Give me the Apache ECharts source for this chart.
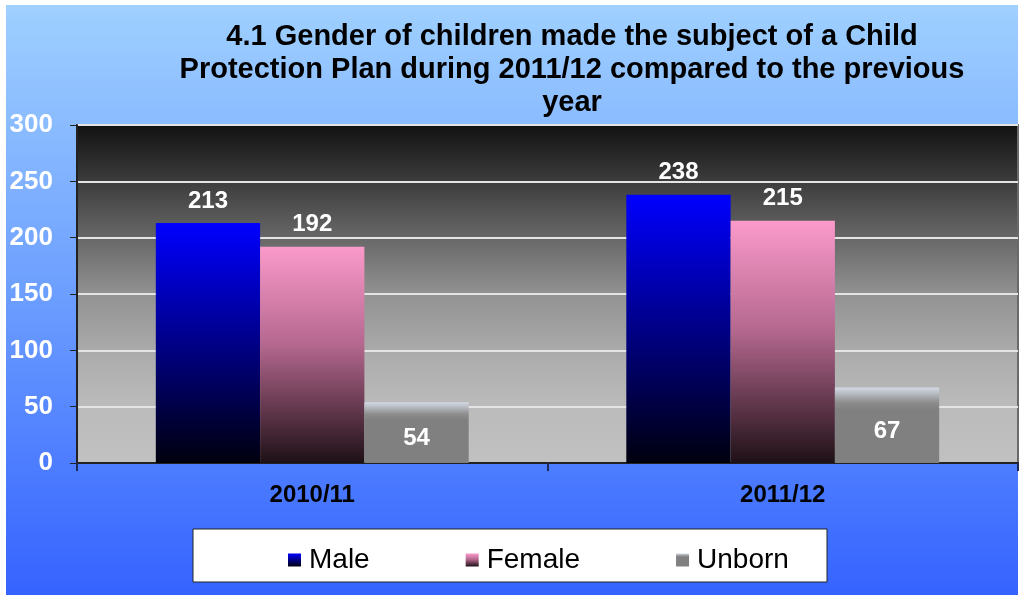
<!DOCTYPE html>
<html>
<head>
<meta charset="utf-8">
<script src="https://cdn.jsdelivr.net/npm/echarts@6/dist/echarts.min.js"></script>
<style>
  html, body { margin: 0; padding: 0; background: #ffffff; }
  #chart { width: 1020px; height: 595px; }
</style>
</head>
<body>
<div id="chart"></div>
<script>
// data
const categories = ["2010/11", "2011/12"];
const male = [213, 238];
const female = [192, 215];
const unborn = [54, 67];
const yTicks = [0, 50, 100, 150, 200, 250, 300];

const chart = echarts.init(document.getElementById("chart"), null, { renderer: "canvas" });

const vGrad = (stops) => new echarts.graphic.LinearGradient(0, 0, 0, 1, stops);
const FONT = "Arial, 'Liberation Sans', sans-serif";

const topLabel = {
  show: true,
  position: "top",
  distance: 10,
  color: "#ffffff",
  fontFamily: FONT,
  fontWeight: "bold",
  fontSize: 24,
};

const option = {
  animation: false,
  graphic: [
    {
      type: "rect",
      z: -10,
      silent: true,
      shape: { x: 6, y: 5, width: 1012, height: 590 },
      style: {
        fill: vGrad([
          { offset: 0, color: "#9fd0ff" },
          { offset: 0.5, color: "#6b9dff" },
          { offset: 1, color: "#3563ff" },
        ]),
      },
    },
    {
      // plot background
      type: "rect",
      z: -5,
      silent: true,
      shape: { x: 77, y: 125, width: 941, height: 338 },
      style: {
        fill: vGrad([
          { offset: 0, color: "#111111" },
          { offset: 0.33, color: "#666666" },
          { offset: 0.5, color: "#929292" },
          { offset: 0.67, color: "#ababab" },
          { offset: 0.83, color: "#bbbbbb" },
          { offset: 1, color: "#c1c1c1" },
        ]),
        stroke: "#6a6a6a",
        lineWidth: 2,
      },
    },
    {
      type: "rect",
      z: 10,
      silent: true,
      shape: { x: 193, y: 529, width: 634, height: 53 },
      style: { fill: "#ffffff", stroke: "#222222", lineWidth: 1 },
    },
  ],
  title: {
    text: "4.1 Gender of children made the subject of a Child\nProtection Plan during 2011/12 compared to the previous\nyear",
    left: 567,
    textAlign: "center",
    top: 15,
    textStyle: {
      fontFamily: FONT,
      fontWeight: "bold",
      fontSize: 29,
      lineHeight: 33,
      color: "#000000",
    },
  },
  legend: {
    data: ["Male", "Female", "Unborn"],
    left: 283,
    top: 541,
    z: 20,
    icon: "rect",
    itemWidth: 13,
    itemHeight: 13,
    itemGap: 96,
    textStyle: {
      fontFamily: FONT,
      fontSize: 28,
      color: "#000000",
      padding: [0, 0, 0, 3],
    },
  },
  grid: { left: 77, right: 2, top: 125, bottom: 132, containLabel: false },
  xAxis: {
    type: "category",
    data: categories,
    axisLine: { lineStyle: { color: "#222222", width: 2 } },
    axisTick: { show: true, length: 8, lineStyle: { color: "#1a2a55", width: 2 } },
    axisLabel: {
      margin: 20,
      color: "#000000",
      fontFamily: FONT,
      fontWeight: "bold",
      fontSize: 24,
    },
  },
  yAxis: {
    type: "value",
    min: yTicks[0],
    max: yTicks[yTicks.length - 1],
    interval: 50,
    axisLine: { show: true, lineStyle: { color: "#222222", width: 2 } },
    axisTick: { show: true, length: 7, lineStyle: { color: "#222222" } },
    splitLine: { show: true, lineStyle: { color: "#e4e4e4", width: 2 } },
    axisLabel: {
      margin: 24,
      color: "#ffffff",
      fontFamily: FONT,
      fontWeight: "bold",
      fontSize: 26,
    },
  },
  series: [
    {
      name: "Male",
      type: "bar",
      data: male,
      barGap: "0%",
      barCategoryGap: "33.5%",
      itemStyle: {
        color: vGrad([
          { offset: 0, color: "#0000ff" },
          { offset: 1, color: "#00000e" },
        ]),
      },
      label: topLabel,
    },
    {
      name: "Female",
      type: "bar",
      data: female,
      itemStyle: {
        color: vGrad([
          { offset: 0, color: "#fb9acb" },
          { offset: 0.45, color: "#b5688f" },
          { offset: 1, color: "#1e1016" },
        ]),
      },
      label: topLabel,
    },
    {
      name: "Unborn",
      type: "bar",
      data: unborn,
      itemStyle: {
        color: vGrad([
          { offset: 0, color: "#d4dae6" },
          { offset: 0.2, color: "#8c8c8c" },
          { offset: 0.3, color: "#808080" },
          { offset: 1, color: "#808080" },
        ]),
      },
      label: Object.assign({}, topLabel, { position: "inside", offset: [0, 6] }),
    },
  ],
};

chart.setOption(option);
</script>
</body>
</html>
